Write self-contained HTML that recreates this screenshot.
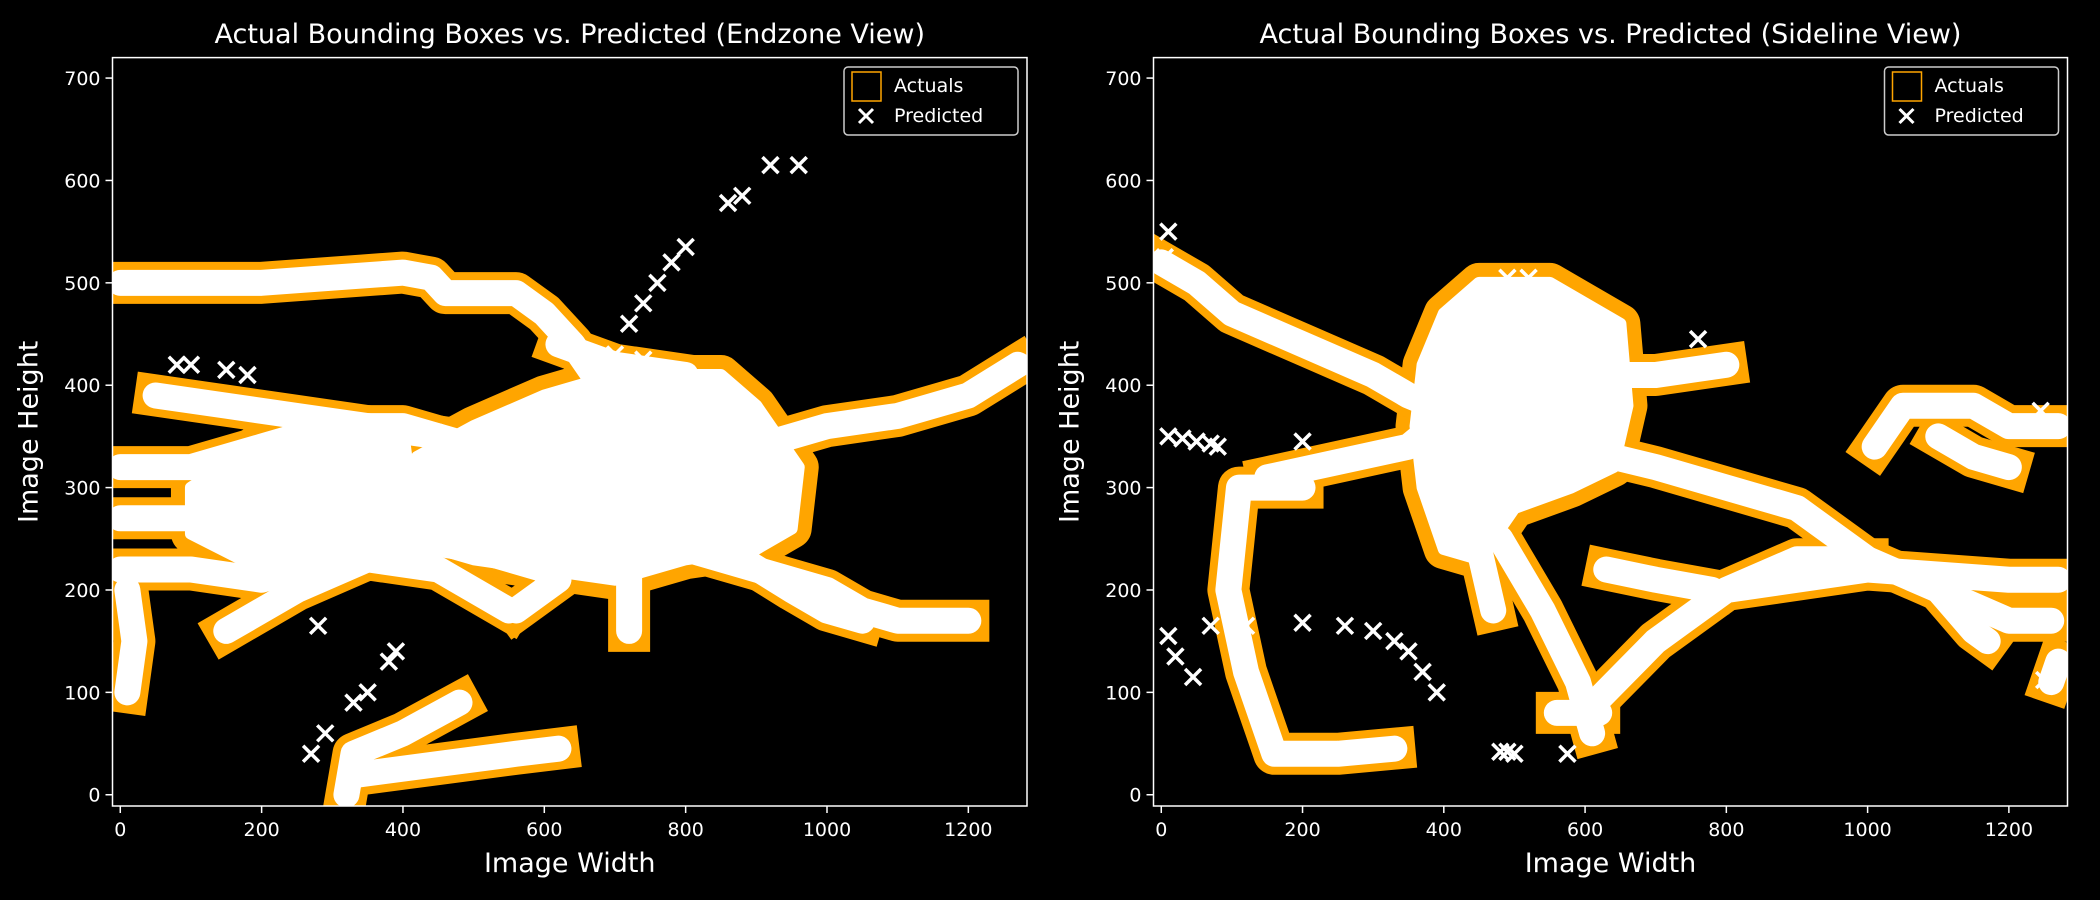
<!DOCTYPE html>
<html><head><meta charset="utf-8">
<style>
html,body{margin:0;padding:0;background:#000;}
svg{display:block;font-family:"DejaVu Sans","Liberation Sans",sans-serif;}
</style></head>
<body>
<svg id="chart" width="2100" height="900" viewBox="0 0 2100 900" xmlns="http://www.w3.org/2000/svg">
<rect width="2100" height="900" fill="#000"/>
</svg>
<script>
// ---- data (image pixel coordinates of trajectories) ----
const xTicks = [0, 200, 400, 600, 800, 1000, 1200];
const yTicks = [0, 100, 200, 300, 400, 500, 600, 700];
const titles = ["Actual Bounding Boxes vs. Predicted (Endzone View)", "Actual Bounding Boxes vs. Predicted (Sideline View)"];

const endzoneTracks = [
  [[0,500],[100,500],[200,500],[300,505],[400,510],[440,505],[460,490],[560,490],[600,470],[640,440],[680,400]],
  [[0,320],[100,320],[200,340],[300,360],[400,360],[500,340],[600,320],[700,300]],
  [[50,390],[150,380],[250,370],[350,360],[450,350]],
  [[0,270],[100,270],[200,290],[300,290],[400,280],[500,260],[600,250],[700,260],[800,240],[900,220],[1000,200],[1050,180],[1100,170],[1200,170]],
  [[0,220],[100,220],[200,210],[300,230],[400,250],[500,240],[600,220]],
  [[150,160],[250,200],[350,230],[450,220],[550,180]],
  [[850,330],[1000,360],[1100,370],[1200,390],[1270,420]],
  [[880,230],[950,200],[1000,180],[1050,170]],
  [[320,0],[330,40],[400,60],[480,90]],
  [[340,20],[450,30],[560,40],[620,45]],
  [[10,100],[20,150],[10,200]],
  [[560,180],[620,210]],
  [[720,160],[720,240]],
  [[620,440],[700,420],[800,410]]
];
const endzoneBlobs = [
  [[400,250],[500,230],[600,220],[700,210],[800,230],[900,240],[950,260],[960,320],[900,380],[850,410],[700,410],[600,390],[500,360],[420,330],[380,290]],
  [[100,300],[200,345],[300,365],[400,355],[420,250],[300,225],[200,220],[100,255]]
];
const endzoneSingles = [[700,430],[720,460],[740,480],[760,500],[780,520],[800,535],[860,578],[880,585],[920,615],[960,615],[80,420],[100,420],[150,415],[180,410],[270,40],[290,60],[330,90],[350,100],[380,130],[390,140],[750,230],[280,165],[740,425],[640,370],[160,265]];

const sidelineTracks = [
  [[0,520],[50,500],[100,470],[200,440],[300,410],[350,390],[420,370]],
  [[600,410],[700,410],[800,420]],
  [[200,300],[110,300],[95,200],[120,120],[150,60],[160,40],[250,40],[330,45]],
  [[150,310],[350,340],[420,380]],
  [[450,300],[450,240],[470,180]],
  [[480,250],[540,180],[590,110],[610,60]],
  [[600,80],[700,150],[800,200],[1000,220],[1200,210],[1270,210]],
  [[520,350],[700,320],[900,280],[1000,230],[1100,200],[1200,170],[1260,170]],
  [[560,80],[620,80]],
  [[630,220],[700,210],[780,200]],
  [[800,200],[900,230],[1000,230]],
  [[1010,340],[1050,380],[1150,380],[1200,360],[1270,360]],
  [[1100,350],[1150,330],[1200,320]],
  [[1260,110],[1270,130]],
  [[1100,200],[1150,160],[1170,150]]
];
const sidelineBlobs = [
  [[370,300],[400,240],[450,230],[500,280],[580,300],[640,320],[660,380],[650,460],[600,480],[550,500],[450,500],[400,470],[370,420],[360,360]]
];
const sidelineSingles = [[10,550],[5,525],[10,350],[30,348],[50,345],[70,343],[80,340],[200,345],[10,155],[20,135],[45,115],[70,165],[120,165],[200,168],[260,165],[300,160],[330,150],[350,140],[370,120],[390,100],[480,42],[490,42],[500,40],[575,40],[760,445],[1090,378],[1245,375],[490,505],[520,505],[1250,112]];

// ---- rendering ----
const NS = "http://www.w3.org/2000/svg";
const svg = document.getElementById("chart");
const XMIN = -11, XMAX = 1283, YMIN = -11, YMAX = 720;
const panels = [
  {left:112.5, width:914.5, top:57.6, height:748.4, tracks:endzoneTracks, blobs:endzoneBlobs, singles:endzoneSingles, title:titles[0], key:"endzone"},
  {left:1153.5, width:914, top:57.6, height:748.4, tracks:sidelineTracks, blobs:sidelineBlobs, singles:sidelineSingles, title:titles[1], key:"sideline"}
];
function el(tag, attrs, parent){
  const e = document.createElementNS(NS, tag);
  for (const k in attrs) e.setAttribute(k, attrs[k]);
  (parent||svg).appendChild(e);
  return e;
}
panels.forEach(p => {
  const sx = v => p.left + (v - XMIN) / (XMAX - XMIN) * p.width;
  const sy = v => p.top + (YMAX - v) / (YMAX - YMIN) * p.height;
  const pts = t => t.map(q => sx(q[0]) + "," + sy(q[1])).join(" ");
  const g = el("g", {});
  
  
  const clipId = "clip-" + p.key;
  const cp = el("clipPath", {id: clipId}, g);
  el("rect", {x:p.left, y:p.top, width:p.width, height:p.height}, cp);
  const plot = el("g", {"clip-path":"url(#" + clipId + ")"}, g);
  // actuals
  p.blobs.forEach(t => {
    const b = el("polygon", {points: pts(t), fill:"#ffa500", stroke:"#ffa500", "stroke-width":40, "stroke-linejoin":"round"}, plot);
    
    
  });
  p.tracks.forEach(t => {
    const path = el("polyline", {points: pts(t), fill:"none", stroke:"#ffa500", "stroke-width":42, "stroke-linejoin":"round", "stroke-linecap":"square"}, plot);
    
    
  });
  // predicted
  p.blobs.forEach(t => {
    const b = el("polygon", {points: pts(t), fill:"#fff", stroke:"#fff", "stroke-width":12, "stroke-linejoin":"round"}, plot);
    
    
  });
  p.tracks.forEach(t => {
    const path = el("polyline", {points: pts(t), fill:"none", stroke:"#fff", "stroke-width":26, "stroke-linejoin":"round", "stroke-linecap":"round"}, plot);
    
    
  });
  p.singles.forEach(q => {
    const x = sx(q[0]), y = sy(q[1]), s = 8;
    const m = el("path", {d:`M${x-s},${y-s}L${x+s},${y+s}M${x-s},${y+s}L${x+s},${y-s}`, stroke:"#fff", "stroke-width":3.5}, plot);
    
    
  });
  // frame
  const fr = el("rect", {x:p.left, y:p.top, width:p.width, height:p.height, fill:"none", stroke:"#fff", "stroke-width":1.5}, g);
  
  
  // ticks
  xTicks.forEach(v => {
    const x = sx(v), yb = p.top + p.height;
    el("line", {x1:x, x2:x, y1:yb, y2:yb+7, stroke:"#fff", "stroke-width":1.5}, g);
    const t = el("text", {x:x, y:yb+30, fill:"#fff", "font-size":19, "text-anchor":"middle"}, g);
    t.textContent = v;
    
    
  });
  yTicks.forEach(v => {
    const y = sy(v);
    el("line", {x1:p.left-7, x2:p.left, y1:y, y2:y, stroke:"#fff", "stroke-width":1.5}, g);
    const t = el("text", {x:p.left-12, y:y+7, fill:"#fff", "font-size":19, "text-anchor":"end"}, g);
    t.textContent = v;
    
    
  });
  const cx = p.left + p.width/2;
  const tt = el("text", {x:cx, y:43, fill:"#fff", "font-size":27, "text-anchor":"middle"}, g);
  tt.textContent = p.title;
  
  
  const xl = el("text", {x:cx, y:872, fill:"#fff", "font-size":27, "text-anchor":"middle"}, g);
  xl.textContent = "Image Width";
  
  
  const ly = p.top + p.height/2, lx = p.left - 75;
  const yl = el("text", {x:lx, y:ly, fill:"#fff", "font-size":27, "text-anchor":"middle", transform:`rotate(-90 ${lx} ${ly})`}, g);
  yl.textContent = "Image Height";
  
  
  // legend
  const lg = el("g", {}, g);
  
  
  const rx = p.left + p.width - 9;
  el("rect", {x:rx-174, y:67, width:174, height:68, rx:4, fill:"#000", stroke:"#ccc", "stroke-width":1.5}, lg);
  el("rect", {x:rx-166, y:72, width:29, height:29, fill:"none", stroke:"#ffa500", "stroke-width":1.5}, lg);
  const bx = rx-152, by = 116;
  el("path", {d:`M${bx-7},${by-7}L${bx+7},${by+7}M${bx-7},${by+7}L${bx+7},${by-7}`, stroke:"#fff", "stroke-width":3}, lg);
  const a = el("text", {x:rx-124, y:92, fill:"#fff", "font-size":19}, lg);
  a.textContent = "Actuals";
  
  
  const b = el("text", {x:rx-124, y:122, fill:"#fff", "font-size":19}, lg);
  b.textContent = "Predicted";
  
  
});
</script>
</body></html>
